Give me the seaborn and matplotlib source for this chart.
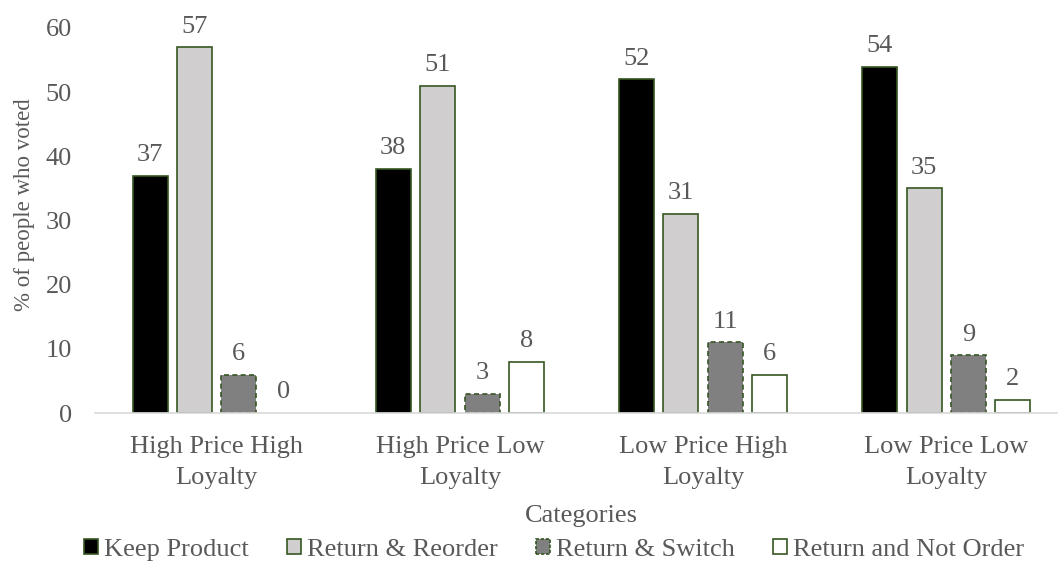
import matplotlib
matplotlib.use("Agg")
import matplotlib.pyplot as plt
import seaborn as sns
import pandas as pd
from matplotlib.patches import Patch

categories = ["High Price High Loyalty", "High Price Low Loyalty",
              "Low Price High Loyalty", "Low Price Low Loyalty"]
tick_labels = ["High Price High\nLoyalty", "High Price Low\nLoyalty",
               "Low Price High\nLoyalty", "Low Price Low\nLoyalty"]
series = ["Keep Product", "Return & Reorder", "Return & Switch", "Return and Not Order"]
keep_product = [37, 38, 52, 54]
return_reorder = [57, 51, 31, 35]
return_switch = [6, 3, 11, 9]
return_not_order = [0, 8, 6, 2]

colors = ["#000000", "#d0cece", "#808080", "#ffffff"]
edge = "#375623"
text_col = "#595959"
FS = 19

rows = []
for s, vals in zip(series, [keep_product, return_reorder, return_switch, return_not_order]):
    for c, v in zip(categories, vals):
        rows.append({"Category": c, "Series": s, "Value": v})
df = pd.DataFrame(rows)

sns.set_style("white")
plt.rcParams["font.family"] = ["Liberation Serif", "DejaVu Serif"]

fig = plt.figure(figsize=(10.58, 5.70), dpi=100)
ax = fig.add_axes([95 / 1058, 1 - 413 / 570, (1068 - 95) / 1058, (413 - 28) / 570])

sns.barplot(data=df, x="Category", y="Value", hue="Series", order=categories,
            hue_order=series, palette=colors, width=0.73, gap=0.21,
            edgecolor=edge, linewidth=1.2, ax=ax, legend=False)

for i, cont in enumerate(ax.containers):
    for p, v in zip(cont, cont.datavalues):
        if i == 2:
            p.set_linestyle((0, (3, 2)))
        if v == 0:
            p.set_linewidth(0)
    ax.bar_label(cont, labels=[f"{int(v)}" for v in cont.datavalues], padding=7,
                 fontsize=FS, color=text_col)

ax.set_ylim(0, 60)
ax.set_yticks(range(0, 61, 10))
ax.set_xticks(range(4))
ax.set_xticklabels(tick_labels, fontsize=FS, color=text_col, linespacing=1.55)
ax.tick_params(axis="y", labelsize=FS, labelcolor=text_col, length=0, pad=16.5)
ax.tick_params(axis="x", length=0, pad=16.5)
for side in ["top", "right", "left"]:
    ax.spines[side].set_visible(False)
ax.spines["bottom"].set_color("#d9d9d9")
ax.spines["bottom"].set_linewidth(1.2)
ax.grid(False)

ax.set_xlabel("Categories", fontsize=FS, color=text_col)
ax.xaxis.set_label_coords((581 - 95) / 973, (413 - 516) / 385)
ax.xaxis.label.set_va("center")
ax.set_ylabel("% of people who voted", fontsize=16.5, color=text_col)
ax.yaxis.set_label_coords((25 - 95) / 973, (413 - 205) / 385)
ax.yaxis.label.set_va("center")
ax.yaxis.label.set_ha("center")

handles = []
for i, (s, c) in enumerate(zip(series, colors)):
    handles.append(Patch(facecolor=c, edgecolor=edge, linewidth=1.2,
                         linestyle=(0, (2, 1)) if i == 2 else "-", label=s))
fig.legend(handles=handles, loc="center", bbox_to_anchor=(554 / 1058, 1 - 550 / 570),
           ncol=4, frameon=False, fontsize=FS, handlelength=0.53, handleheight=0.53,
           handletextpad=0.23, columnspacing=1.45, labelcolor=text_col,
           borderpad=0, borderaxespad=0)

fig.savefig("out.png", dpi=100)
